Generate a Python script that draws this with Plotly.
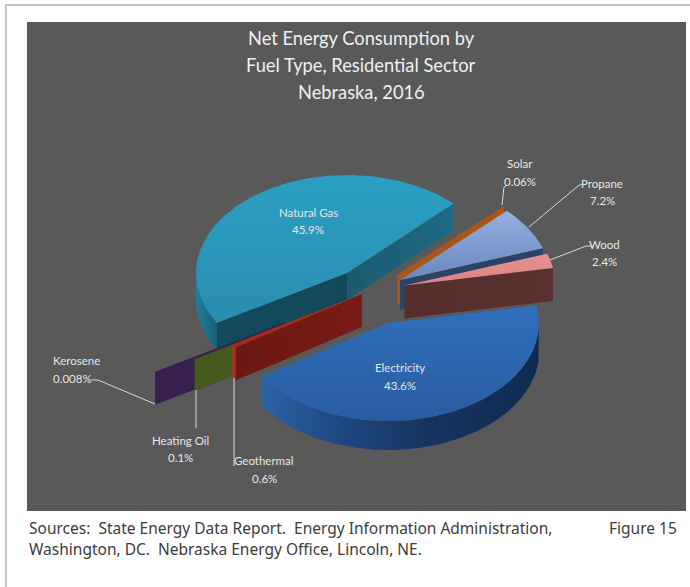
import numpy as np
import plotly.graph_objects as go

# ---------- data ----------
fuels = ["Natural Gas", "Kerosene", "Heating Oil", "Geothermal", "Electricity", "Wood", "Propane", "Solar"]
shares = [45.9, 0.008, 0.1, 0.6, 43.6, 2.4, 7.2, 0.06]
share_labels = ["45.9%", "0.008%", "0.1%", "0.6%", "43.6%", "2.4%", "7.2%", "0.06%"]
title_lines = ["Net Energy Consumption by", "Fuel Type, Residential Sector", "Nebraska, 2016"]
source_lines = ["Sources:  State Energy Data Report.  Energy Information Administration,",
                "Washington, DC.  Nebraska Energy Office, Lincoln, NE."]
figure_label = "Figure 15"

# ---------- pie geometry / style (not data) ----------
W, H = 690, 587
CENTER = (375, 285)
RX, RY = 151, 98
START = 45.1
explode = {"Natural Gas": (-28, -12), "Solar": (22, -10), "Propane": (25, -5), "Wood": (29.5, 0.5),
           "Kerosene": (-90, 37), "Heating Oil": (-50.5, 23.5), "Geothermal": (-13, 9), "Electricity": (13, 38)}
depth = {"Natural Gas": 27, "Solar": 30, "Propane": 30, "Wood": 33, "Kerosene": 33,
         "Heating Oil": 32, "Geothermal": 33, "Electricity": 29}
draw_order = ["Natural Gas", "Solar", "Propane", "Wood", "Kerosene", "Heating Oil", "Geothermal", "Electricity"]
top_grad = {"Natural Gas": ("#2a9fc3", "#2a8db0"), "Solar": ("#b5601f", "#a8561a"), "Propane": ("#94afe0", "#6a88bd"),
            "Wood": ("#e8908f", "#dc8284"), "Kerosene": ("#35204f", "#35204f"), "Heating Oil": ("#4a5f22", "#4a5f22"),
            "Geothermal": ("#b52a22", "#a82520"), "Electricity": ("#2f70bc", "#2a5ca2")}
edge_start = {"Natural Gas": ("#1b5a70", "#1e6a82"), "Solar": ("#a8561a", "#a8561a"), "Propane": ("#2a4366", "#2a4366"),
              "Wood": ("#552d2c", "#5a3030"), "Electricity": ("#1c4070", "#1c4070")}
edge_end = {"Natural Gas": ("#144a5d", "#134759"), "Kerosene": ("#35204f", "#35204f"),
            "Heating Oil": ("#45591f", "#45591f"), "Geothermal": ("#6b1812", "#7a1b16")}
arc_wall = {"Natural Gas": ("#1f7f9d", "#186078"), "Kerosene": ("#35204f", "#35204f"),
            "Heating Oil": ("#45591f", "#45591f"), "Geothermal": ("#b52a22", "#b52a22"),
            "Electricity": [(0, "#2c62a6"), (0.3, "#1d4680"), (0.6, "#16345f"), (1, "#0f2a50")]}

fig = go.Figure()


def poly(xs, ys, colors, name, kind="vertical"):
    xs, ys = np.asarray(xs), np.asarray(ys)
    if isinstance(colors, list):
        scale = [list(c) for c in colors]
    else:
        scale = [[0, colors[0]], [1, colors[1]]]
    lo, hi = (xs.min(), xs.max()) if kind == "horizontal" else (ys.min(), ys.max())
    if hi - lo < 1e-6:
        hi = lo + 1
    fig.add_trace(go.Scatter(
        x=xs, y=ys, mode="lines", fill="toself", line=dict(width=0), name=name, showlegend=False, hoverinfo="name",
        fillgradient=dict(type=kind, colorscale=scale, start=lo, stop=hi)))


total = sum(shares)
angles = {}
a = START
for f, s in zip(fuels, shares):
    angles[f] = (a, a + 360 * s / total)
    a += 360 * s / total


def pt(cx, cy, deg):
    r = np.radians(deg)
    return cx + RX * np.cos(r), cy - RY * np.sin(r)


for f in draw_order:
    a0, a1 = angles[f]
    cx = CENTER[0] + explode[f][0]
    cy = CENTER[1] + explode[f][1]
    d = depth[f]
    # straight walls that face the viewer
    if np.cos(np.radians(a0)) > 0 and f in edge_start:
        x, y = pt(cx, cy, a0)
        poly([cx, x, x, cx], [cy, y, y + d, cy + d], edge_start[f], f, "horizontal")
    if np.cos(np.radians(a1)) < 0 and f in edge_end:
        x, y = pt(cx, cy, a1)
        poly([x, cx, cx, x], [y, cy, cy + d, y + d], edge_end[f], f, "horizontal")
    # outer curved wall on the near half
    lo, hi = max(a0, 180), min(a1, 360)
    if hi > lo and f in arc_wall:
        t = np.linspace(lo, hi, 90)
        ax, ay = pt(cx, cy, t)
        poly(np.r_[ax, ax[::-1]], np.r_[ay, ay[::-1] + d], arc_wall[f], f, "horizontal")
    # top face
    t = np.linspace(a0, a1, 140)
    ax, ay = pt(cx, cy, t)
    poly(np.r_[cx, ax, cx], np.r_[cy, ay, cy], top_grad[f], f, "vertical")

# leader lines
leaders = {"Solar": ([502, 504, 506], [205, 187, 186]), "Propane": ([529, 578, 582], [227, 186, 184]),
           "Wood": ([550, 586, 591], [260, 246, 246]), "Kerosene": ([155, 98, 92], [404, 380, 380]),
           "Heating Oil": ([196, 196], [390, 428]), "Geothermal": ([234, 234], [378, 466])}
for f, (lx, ly) in leaders.items():
    fig.add_trace(go.Scatter(x=lx, y=ly, mode="lines", line=dict(color="#d8d8d8", width=1),
                             showlegend=False, hoverinfo="skip"))

FONT = "Lato"
ann = []


def text(x, y, s, size, color, anchor="center", family=FONT):
    ann.append(dict(x=x, y=y, text=s, xref="x", yref="y", showarrow=False, xanchor=anchor, yanchor="middle",
                    borderpad=0, borderwidth=0, font=dict(family=family, size=size, color=color)))


for (yy, line) in zip([38, 65, 92], title_lines):
    text(361, yy, line, 18.3, "#f0f0f0")

label_pos = {"Natural Gas": (308, 212, 229), "Solar": (520, 163, 181), "Propane": (602, 183, 200), "Wood": (604, 244, 261),
             "Kerosene": (76, 360, 378), "Heating Oil": (180.5, 440, 457), "Geothermal": (264, 460, 478),
             "Electricity": (400, 367, 385)}
for f, lab in zip(fuels, share_labels):
    x, y1, y2 = label_pos[f]
    text(x, y1, f, 11.5, "#e6e6e6")
    text(x - 4 if f == "Kerosene" else x, y2, lab, 11.5, "#e6e6e6")

FOOT = "Noto Sans"
text(29, 528, source_lines[0], 15.5, "#3c3c3c", "left", FOOT)
text(29, 549, source_lines[1], 15.5, "#3c3c3c", "left", FOOT)
text(609, 528, figure_label, 15.5, "#3c3c3c", "left", FOOT)

shapes = [
    dict(type="rect", xref="x", yref="y", x0=27, x1=686, y0=22, y1=511, fillcolor="#595959", line_width=0, layer="below"),
    dict(type="rect", xref="x", yref="y", x0=5, x1=690, y0=4, y1=6, fillcolor="#c4c4c4", line_width=0, layer="below"),
    dict(type="rect", xref="x", yref="y", x0=5, x1=7, y0=4, y1=587, fillcolor="#c4c4c4", line_width=0, layer="below"),
]

fig.update_layout(
    width=W, height=H, margin=dict(l=0, r=0, t=0, b=0), autosize=False, showlegend=False,
    paper_bgcolor="white", plot_bgcolor="white", annotations=ann, shapes=shapes,
    xaxis=dict(range=[0, W], visible=False, fixedrange=True),
    yaxis=dict(range=[H, 0], visible=False, fixedrange=True),
)
fig.write_html("out.html", config={"displayModeBar": False},
               post_script="document.body.style.margin='0';document.body.style.overflow='hidden';")
